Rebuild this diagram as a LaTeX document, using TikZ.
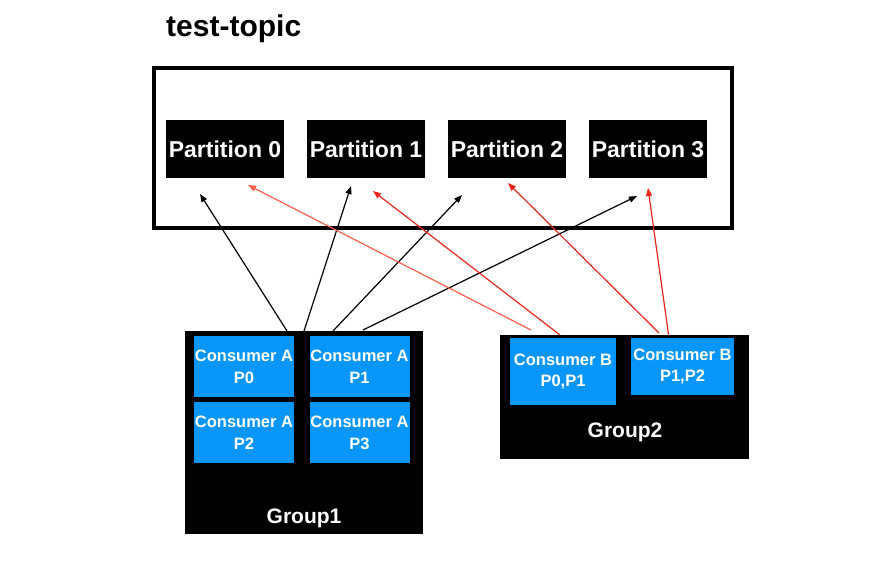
\documentclass[tikz,border=0pt]{standalone}
\usepackage{fontspec}
\setmainfont{Liberation Sans}
\usetikzlibrary{arrows.meta}
\definecolor{cblue}{RGB}{8,150,250}
\definecolor{lred}{RGB}{255,95,75}
\definecolor{dred}{RGB}{232,38,28}
\begin{document}
\begin{tikzpicture}[x=1pt,y=-1pt,
  topicbox/.style={draw=black,line width=4pt,fill=white,minimum width=578pt,minimum height=160pt,inner sep=0pt},
  partbox/.style={fill=black,text=white,font=\fontsize{23}{26}\selectfont\bfseries,minimum width=118pt,minimum height=58pt,inner sep=0pt},
  groupbox/.style={fill=black,inner sep=0pt},
  consbox/.style={fill=cblue,text=white,font=\fontsize{16.5}{21.7}\selectfont\bfseries,align=center,inner sep=0pt},
  grouplabel/.style={text=white,font=\fontsize{21}{24}\selectfont\bfseries,inner sep=0pt},
  conn/.style={line width=1.2pt,-{Triangle[length=8pt,width=6pt]}}
]
\useasboundingbox (0,0) rectangle (894,578);
\node[anchor=base west,inner sep=0pt,font=\fontsize{30}{34}\selectfont\bfseries] (title) at (166,37) {test-topic};
\node[topicbox] (topic) at (443,148) {};
\node[partbox] (p0) at (225,149) {Partition 0};
\node[partbox] (p1) at (366,149) {Partition 1};
\node[partbox] (p2) at (507,149) {Partition 2};
\node[partbox] (p3) at (648,149) {Partition 3};
% arrow end points
\coordinate (s1) at (287,331); \coordinate (t1) at (200,194);
\coordinate (s2) at (304,331); \coordinate (t2) at (351,186);
\coordinate (s3) at (333,331); \coordinate (t3) at (462,195);
\coordinate (s4) at (363,330); \coordinate (t4) at (637,196);
\coordinate (s5) at (531,330); \coordinate (t5) at (248,185);
\coordinate (s6) at (560,335); \coordinate (t6) at (373,191);
\coordinate (s7) at (659,333); \coordinate (t7) at (508,183);
\coordinate (s8) at (669,338); \coordinate (t8) at (648,188);
\draw[conn,black] (s1) -- (t1);
\draw[conn,black] (s2) -- (t2);
\draw[conn,black] (s3) -- (t3);
\draw[conn,black] (s4) -- (t4);
\draw[conn,lred] (s5) -- (t5);
\draw[conn,dred] (s6) -- (t6);
\draw[conn,dred] (s7) -- (t7);
\draw[conn,dred] (s8) -- (t8);
% groups
\node[groupbox,minimum width=238pt,minimum height=203pt] (g1) at (304,432.5) {};
\node[consbox,minimum width=100pt,minimum height=61pt] (a0) at (244,366.5) {Consumer A\\P0};
\node[consbox,minimum width=100pt,minimum height=61pt] (a1) at (359.5,366.5) {Consumer A\\P1};
\node[consbox,minimum width=100pt,minimum height=61pt] (a2) at (244,432.5) {Consumer A\\P2};
\node[consbox,minimum width=100pt,minimum height=61pt] (a3) at (359.5,432.5) {Consumer A\\P3};
\node[grouplabel] (g1l) at (304,518) {Group1};
\node[groupbox,minimum width=249pt,minimum height=124pt] (g2) at (624.5,397) {};
\node[consbox,minimum width=106pt,minimum height=67pt] (b1) at (563,371.5) {Consumer B\\P0,P1};
\node[consbox,minimum width=103pt,minimum height=57pt] (b2) at (682.5,366.5) {Consumer B\\P1,P2};
\node[grouplabel] (g2l) at (625,432) {Group2};
\end{tikzpicture}
\end{document}
